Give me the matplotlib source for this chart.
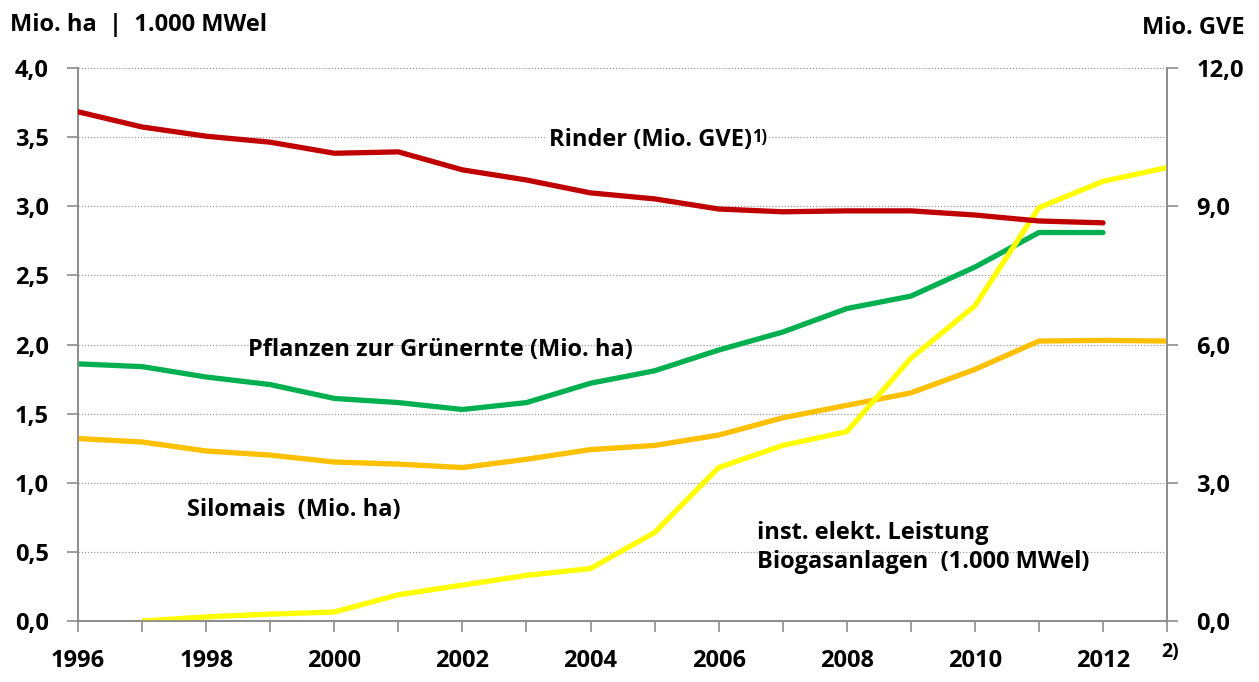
import numpy as np
import matplotlib.pyplot as plt

plt.rcParams['font.family'] = ['Open Sans', 'DejaVu Sans']
plt.rcParams['font.weight'] = 'bold'

years = list(range(1996, 2014))

# Rinder in Mio. GVE (right axis), 1996-2012
rinder = [11.05, 10.72, 10.52, 10.39, 10.15, 10.18, 9.79, 9.57, 9.29, 9.16,
          8.94, 8.88, 8.90, 8.90, 8.81, 8.68, 8.64]
# Pflanzen zur Gruenernte in Mio. ha, 1996-2012
gruen = [1.86, 1.84, 1.765, 1.71, 1.61, 1.58, 1.53, 1.58, 1.72, 1.81,
         1.96, 2.09, 2.26, 2.35, 2.56, 2.81, 2.81]
# Silomais in Mio. ha, 1996-2013
silomais = [1.32, 1.295, 1.23, 1.20, 1.15, 1.135, 1.11, 1.17, 1.24, 1.27,
            1.345, 1.47, 1.56, 1.65, 1.82, 2.025, 2.03, 2.025]
# Biogas installed power in 1.000 MWel, 1997-2013
biogas = [0.0, 0.03, 0.05, 0.065, 0.19, 0.26, 0.33, 0.38, 0.64, 1.11,
          1.27, 1.37, 1.90, 2.28, 2.99, 3.18, 3.28]

xlabels = [str(y) if y % 2 == 0 and y < 2013 else '' for y in years]

fig = plt.figure(figsize=(12.59, 6.82), dpi=100)
ax = fig.add_axes([0.062, 0.0894, 0.865, 0.8109])
ax2 = ax.twinx()

gray = '#8c8c8c'
fs = 17
ax.set_xlim(1996, 2013)
ax.set_ylim(0, 4.0)
ax2.set_ylim(0, 12.0)
ax.set_yticks(np.arange(0, 4.01, 0.5))
ax2.set_yticks([0, 3, 6, 9, 12])
ax.set_yticklabels([f'{v:.1f}'.replace('.', ',') for v in np.arange(0, 4.01, 0.5)])
ax2.set_yticklabels([f'{v:.1f}'.replace('.', ',') for v in [0, 3, 6, 9, 12]])
ax.set_xticks(years)
ax.set_xticklabels(xlabels)

for a in (ax, ax2):
    for s in a.spines.values():
        s.set_color(gray)
        s.set_linewidth(1.2)
    a.spines['top'].set_visible(False)
    a.tick_params(colors=gray, labelcolor='black', labelsize=fs, length=8, width=1.2)
ax.tick_params(axis='x', pad=12)
ax.tick_params(axis='y', pad=13)
ax2.tick_params(axis='y', pad=13)

ax.yaxis.grid(True, color='#9a9a9a', linestyle=(0, (1, 1.5)), linewidth=0.9)
ax.set_axisbelow(True)

lw = 3.8
ax.plot(years[:17], gruen, color='#00b050', lw=lw, solid_capstyle='round', zorder=3)
ax.plot(years, silomais, color='#ffc000', lw=lw, solid_capstyle='butt', zorder=3)
ax.plot(years[1:], biogas, color='#ffff00', lw=lw, solid_capstyle='butt', zorder=4)
ax2.plot(years[:17], rinder, color='#c00000', lw=lw, solid_capstyle='round', zorder=3)

bbox = dict(facecolor='white', edgecolor='none', pad=3)
rt = ax.text(2003.35, 3.48, 'Rinder (Mio. GVE)', fontsize=fs, fontweight='bold',
             ha='left', va='center', bbox=bbox)
ax.annotate('1)', xy=(1.0, 0.6), xycoords=rt, xytext=(0, 0), textcoords='offset points',
            fontsize=12, fontweight='bold', ha='left', va='center',
            bbox=dict(facecolor='white', edgecolor='none', pad=1))
ax.text(1998.65, 1.96, 'Pflanzen zur Grünernte (Mio. ha)', fontsize=fs, fontweight='bold',
        ha='left', va='center')
ax.text(1997.7, 0.80, 'Silomais  (Mio. ha)', fontsize=fs, fontweight='bold',
        ha='left', va='center')
ax.text(2006.6, 0.53, 'inst. elekt. Leistung\nBiogasanlagen  (1.000 MWel)', fontsize=fs,
        fontweight='bold', ha='left', va='center', linespacing=1.3)

fig.text(10 / 1259, 1 - 25 / 682, 'Mio. ha  |  1.000 MWel', fontsize=fs, fontweight='bold',
         ha='left', va='center')
fig.text(1245 / 1259, 1 - 28 / 682, 'Mio. GVE', fontsize=fs, fontweight='bold',
         ha='right', va='center')
fig.text(1170 / 1259, 1 - 652 / 682, '2)', fontsize=14, fontweight='bold',
         ha='center', va='center')

fig.savefig('out.png', dpi=100)
